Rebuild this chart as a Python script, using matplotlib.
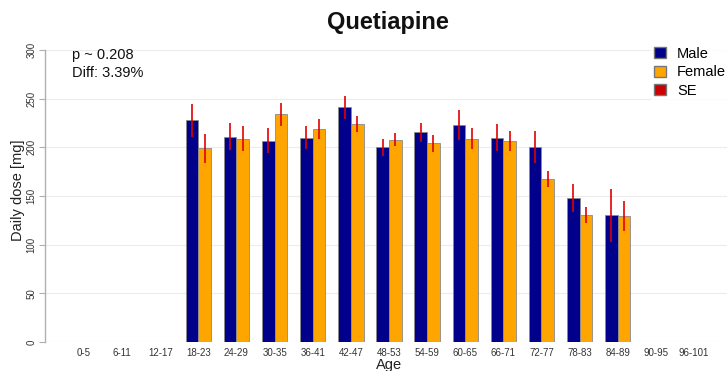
import numpy as np
import matplotlib
matplotlib.use("Agg")
import matplotlib.pyplot as plt
from matplotlib.patches import Patch

plt.rcParams["font.family"] = ["Liberation Sans", "DejaVu Sans"]

# Age groups and mean daily dose (mg) with standard errors
age_groups = ["0-5", "6-11", "12-17", "18-23", "24-29", "30-35", "36-41", "42-47",
              "48-53", "54-59", "60-65", "66-71", "72-77", "78-83", "84-89",
              "90-95", "96-101"]
male_dose = [np.nan, np.nan, np.nan, 228, 211, 207, 210, 241, 200, 215.5,
             223, 210, 200, 148, 130, np.nan, np.nan]
female_dose = [np.nan, np.nan, np.nan, 199, 209, 234, 219, 224, 208, 204,
               209, 206.5, 167.5, 130.5, 129.5, np.nan, np.nan]
male_se = [np.nan, np.nan, np.nan, 17, 14, 12.5, 12, 11.5, 8.5, 10,
           15, 13.5, 16.5, 14.5, 27.5, np.nan, np.nan]
female_se = [np.nan, np.nan, np.nan, 15, 12.5, 12, 10, 8, 7, 8.5,
             10.5, 10.5, 8, 8, 15.5, np.nan, np.nan]
p_value_text = "p ~ 0.208"
diff_text = "Diff: 3.39%"

navy = "#00008B"
orange = "#FFA500"
se_red = "#E00000"

fig = plt.figure(figsize=(7.27, 3.71), dpi=100)
ax = fig.add_axes([45 / 727, (371 - 342) / 371, (727 - 45) / 727, (342 - 50) / 371])

n = len(age_groups)
centers = np.arange(n) * 3 + 2.0
male_x = centers - 0.5
female_x = centers + 0.5

ax.bar(male_x, male_dose, width=1.0, color=navy, edgecolor="#8a8a8a", linewidth=0.6, zorder=2)
ax.bar(female_x, female_dose, width=1.0, color=orange, edgecolor="#8a8a8a", linewidth=0.6, zorder=2)

for xs, vals, errs in ((male_x, male_dose, male_se), (female_x, female_dose, female_se)):
    v = np.array(vals, dtype=float)
    e = np.array(errs, dtype=float)
    ok = ~np.isnan(v)
    ax.vlines(xs[ok], v[ok] - e[ok], v[ok] + e[ok], color=se_red, linewidth=1.4, alpha=0.85, zorder=3)

ax.set_xlim(-1.07, 52.6)
ax.set_ylim(0, 300)
ax.set_yticks(np.arange(0, 301, 50))
for y in np.arange(0, 301, 50):
    ax.axhline(y, color="#ececec", linewidth=0.8, zorder=0)

ax.set_xticks(centers)
ax.set_xticklabels(age_groups, fontsize=7, color="#333333")
ax.tick_params(axis="x", length=0, pad=4)
ax.tick_params(axis="y", length=4, width=0.8, color="#b0b0b0", labelsize=7,
               labelcolor="#333333", pad=2)
for lbl in ax.get_yticklabels():
    lbl.set_rotation(90)
    lbl.set_va("center")

for side in ("top", "right", "bottom"):
    ax.spines[side].set_visible(False)
ax.spines["left"].set_color("#b0b0b0")
ax.spines["left"].set_linewidth(1.0)
ax.spines["left"].set_bounds(0, 300)

fig.text(18 / 727, 1 - 190 / 371, "Daily dose [mg]", rotation=90, ha="center", va="center",
         fontsize=10.5, color="#222222")
fig.text(389 / 727, 1 - 364.5 / 371, "Age", ha="center", va="center", fontsize=10.5, color="#222222")

fig.text(388 / 727, 1 - 23 / 371, "Quetiapine", ha="center", va="center",
         fontsize=17, fontweight="bold", color="#111111")
fig.text(72 / 727, 1 - 55 / 371, p_value_text, ha="left", va="center", fontsize=10.5, color="#111111")
fig.text(72 / 727, 1 - 73 / 371, diff_text, ha="left", va="center", fontsize=10.5, color="#111111")

handles = [Patch(facecolor=navy, edgecolor="#777777", label="Male"),
           Patch(facecolor=orange, edgecolor="#777777", label="Female"),
           Patch(facecolor="#CC0000", edgecolor="#777777", label="SE")]
leg = fig.legend(handles=handles, loc="upper left", bbox_to_anchor=(651 / 727, 1 - 44 / 371),
                 frameon=True, fontsize=10.5, handlelength=0.8, handleheight=0.8,
                 handletextpad=0.8, labelspacing=0.3, borderpad=0.2, borderaxespad=0)
leg.get_frame().set_edgecolor("white")
leg.get_frame().set_facecolor("white")

fig.savefig("out.png", dpi=100)
